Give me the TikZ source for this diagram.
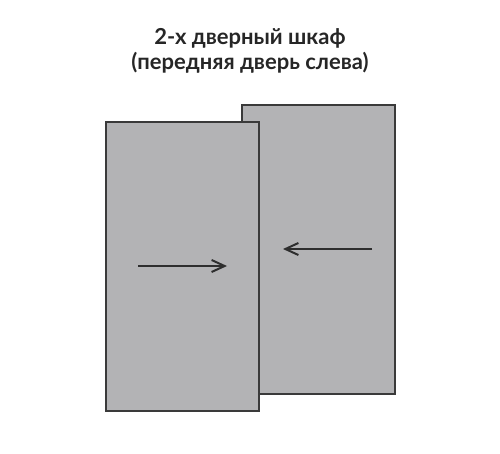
\documentclass[tikz,border=0pt]{standalone}
\usepackage{fontspec}
\setmainfont{Lato}
\usetikzlibrary{arrows.meta}
\definecolor{doorfill}{HTML}{B3B3B5}
\definecolor{edge}{HTML}{3A3A3A}
\begin{document}
\begin{tikzpicture}[x=1pt,y=-1pt,
  door/.style={draw=edge,fill=doorfill,line width=1.4pt},
  move/.style={draw=edge!80!black,line width=2pt,-{Straight Barb[length=13pt,width=12pt,line width=2pt]}},
  title/.style={font=\bfseries\fontsize{22}{25}\selectfont,text=black!85,align=center}]
\useasboundingbox (0,0) rectangle (500,453);
\node[title] (t) at (250,51) {2-х дверный шкаф\\(передняя дверь слева)};
\path[door] (242,105) rectangle (395,394);
\path[door] (106,122) rectangle (259,411);
\coordinate (a1) at (138,266);
\coordinate (a2) at (227,266);
\coordinate (b1) at (372,249);
\coordinate (b2) at (283,249);
\draw[move] (a1) -- (a2);
\draw[move] (b1) -- (b2);
\end{tikzpicture}
\end{document}
